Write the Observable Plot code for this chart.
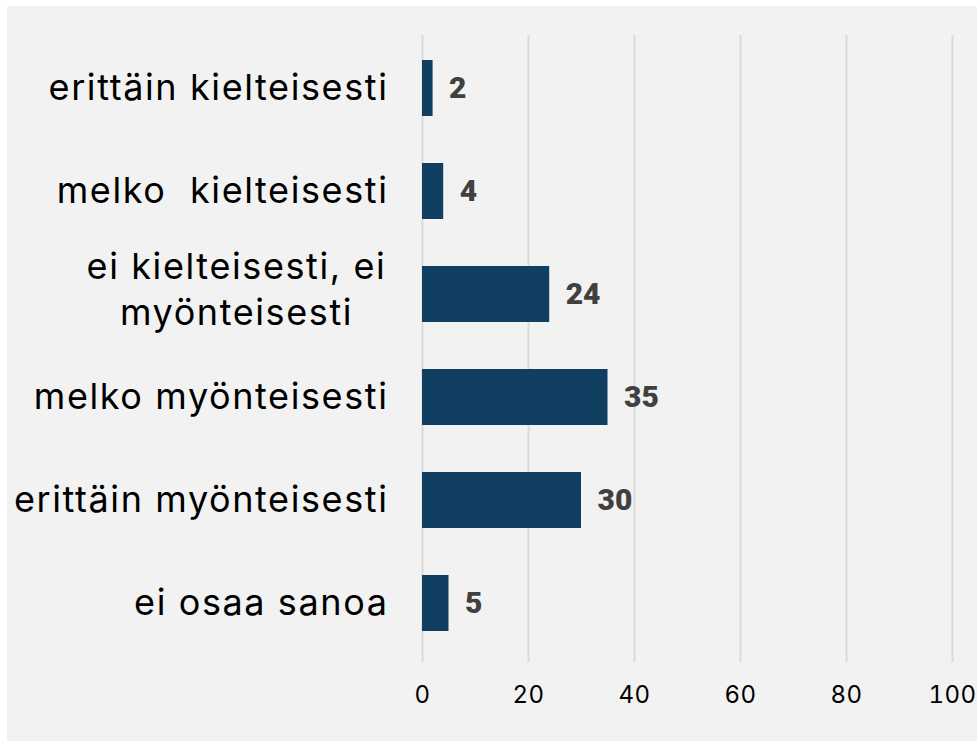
<!DOCTYPE html>
<html>
<head>
<meta charset="utf-8">
<script src="https://cdn.jsdelivr.net/npm/d3@7"></script>
<script src="https://cdn.jsdelivr.net/npm/@observablehq/plot@0.6"></script>
<style>
  html, body { margin: 0; padding: 0; background: #ffffff; }
  #chart { position: absolute; left: 7px; top: 6px; width: 970px; height: 735px; background: #f2f2f2; }
  svg { display: block; }
  g[aria-label="y-axis tick label"] text { letter-spacing: 1.6px; }
  g[aria-label="x-axis tick label"] text { letter-spacing: 0.5px; }
</style>
</head>
<body>
<div id="chart"></div>
<script>
const categories = [
  "erittäin kielteisesti",
  "melko  kielteisesti",
  "ei kielteisesti, ei\nmyönteisesti",
  "melko myönteisesti",
  "erittäin myönteisesti",
  "ei osaa sanoa"
];
const values = [2, 4, 24, 35, 30, 5];
const xTicks = [0, 20, 40, 60, 80, 100];

const data = categories.map((c, i) => ({category: c, value: values[i]}));
const multiLine = categories.filter(c => c.includes("\n"));
const singleLine = categories.filter(c => !c.includes("\n"));

const labelFont = "Inter, 'Open Sans', sans-serif";

const chart = Plot.plot({
  width: 970,
  height: 735,
  marginLeft: 415,
  marginRight: 25,
  marginTop: 29,
  marginBottom: 79,
  style: {background: "#f2f2f2", fontFamily: labelFont, color: "#000"},
  x: {domain: [0, 100], ticks: xTicks},
  y: {domain: categories, range: [28, 651], paddingInner: 0.46, paddingOuter: 0.23},
  marks: [
    Plot.gridX(xTicks, {stroke: "#d9d9d9", strokeWidth: 2, strokeOpacity: 1}),
    Plot.barX(data, {x: "value", y: "category", fill: "#113f61"}),
    Plot.text(data, {x: "value", y: "category", text: d => String(d.value), textAnchor: "start", dx: 16,
      fill: "#404040", fontSize: 30, fontWeight: 900, fontFamily: "Roboto, 'Open Sans', sans-serif"}),
    Plot.axisX(xTicks, {tickSize: 0, tickPadding: 23, fontSize: 24, fill: "#000", label: null, tickFormat: d => String(d)}),
    Plot.axisY(singleLine, {tickSize: 0, tickPadding: 34, fontSize: 36, fill: "#000", label: null, tickFormat: d => d}),
    Plot.axisY(multiLine, {tickSize: 0, tickPadding: 186, textAnchor: "middle", fontSize: 36, lineHeight: 1.28, dy: -7, fill: "#000", label: null, tickFormat: d => d})
  ]
});
document.getElementById("chart").appendChild(chart);
</script>
</body>
</html>
